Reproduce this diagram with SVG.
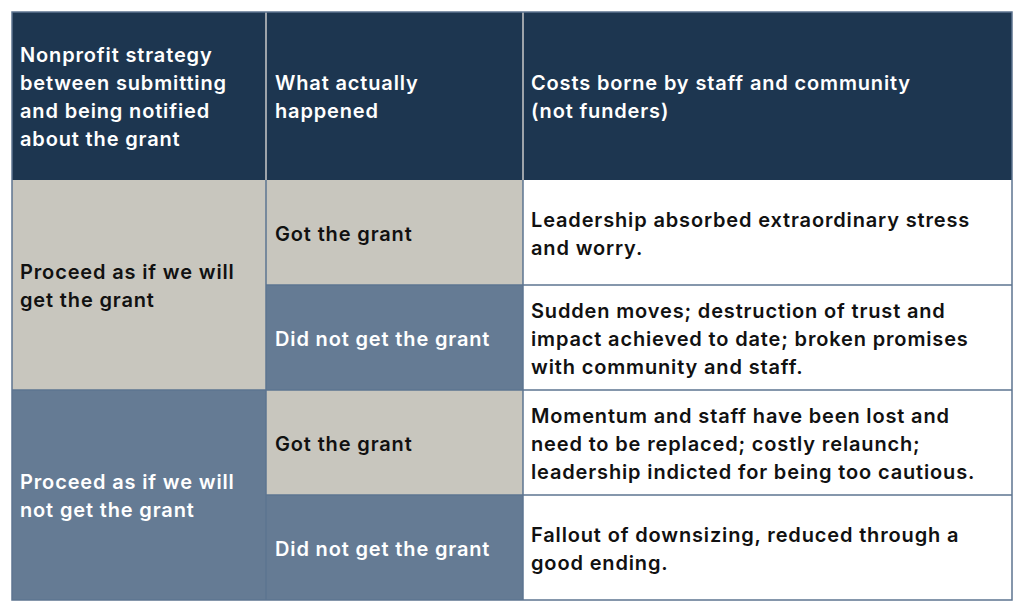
<svg xmlns="http://www.w3.org/2000/svg" width="1024" height="612" viewBox="0 0 1024 612">
<style>
text{font-family:Inter,"Liberation Sans",sans-serif;font-size:20px;letter-spacing:0.85px;font-weight:600;fill:#111}
.h text{fill:#fff}
.w text{fill:#fff}
.g line{stroke:#5d7490;stroke-width:1.5}
</style>
<rect width="1024" height="612" fill="#fff"/>
<g id="header" class="h">
<rect x="12" y="12" width="1000" height="168" fill="#1d3650"/>
<line x1="266" y1="12" x2="266" y2="180" stroke="#c8c8c8" stroke-width="1.5"/>
<line x1="523" y1="12" x2="523" y2="180" stroke="#c8c8c8" stroke-width="1.5"/>
<text x="20" y="62">Nonprofit strategy</text>
<text x="20" y="90">between submitting</text>
<text x="20" y="118">and being notified</text>
<text x="20" y="146">about the grant</text>
<text x="275" y="90">What actually</text>
<text x="275" y="118">happened</text>
<text x="531" y="90">Costs borne by staff and community</text>
<text x="531" y="118">(not funders)</text>
</g>
<g id="s1"><rect x="12" y="180" width="254" height="210" fill="#c8c6be"/><text x="20" y="279">Proceed as if we will</text><text x="20" y="307">get the grant</text></g>
<g id="s2" class="w"><rect x="12" y="390" width="254" height="210" fill="#657b94"/><text x="20" y="489">Proceed as if we will</text><text x="20" y="517">not get the grant</text></g>
<g id="a1"><rect x="266" y="180" width="257" height="105" fill="#c8c6be"/><text x="275" y="241">Got the grant</text></g>
<g id="a2" class="w"><rect x="266" y="285" width="257" height="105" fill="#657b94"/><text x="275" y="346">Did not get the grant</text></g>
<g id="a3"><rect x="266" y="390" width="257" height="105" fill="#c8c6be"/><text x="275" y="451">Got the grant</text></g>
<g id="a4" class="w"><rect x="266" y="495" width="257" height="105" fill="#657b94"/><text x="275" y="556">Did not get the grant</text></g>
<g id="c1"><text x="531" y="227">Leadership absorbed extraordinary stress</text><text x="531" y="255">and worry.</text></g>
<g id="c2"><text x="531" y="318">Sudden moves; destruction of trust and</text><text x="531" y="346">impact achieved to date; broken promises</text><text x="531" y="374">with community and staff.</text></g>
<g id="c3"><text x="531" y="423">Momentum and staff have been lost and</text><text x="531" y="451">need to be replaced; costly relaunch;</text><text x="531" y="479">leadership indicted for being too cautious.</text></g>
<g id="c4"><text x="531" y="542">Fallout of downsizing, reduced through a</text><text x="531" y="570">good ending.</text></g>
<g id="grid" class="g">
<line x1="266" y1="180" x2="266" y2="600"/>
<line x1="523" y1="180" x2="523" y2="600"/>
<line x1="266" y1="285" x2="1012" y2="285"/>
<line x1="12" y1="390" x2="1012" y2="390"/>
<line x1="266" y1="495" x2="1012" y2="495"/>
<rect x="12" y="12" width="1000" height="588" fill="none" stroke="#5d7490" stroke-width="1.5"/>
</g>
</svg>
